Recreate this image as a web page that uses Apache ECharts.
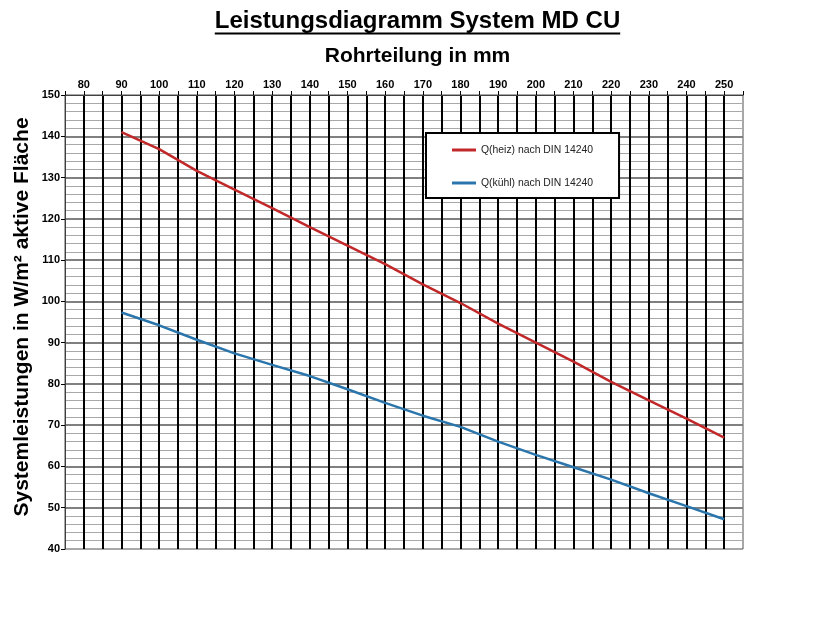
<!DOCTYPE html>
<html>
<head>
<meta charset="utf-8">
<script src="https://cdn.jsdelivr.net/npm/echarts@6/dist/echarts.min.js"></script>
<style>
html,body{margin:0;padding:0;background:#fff;}
#chart{width:837px;height:635px;}
</style>
</head>
<body>
<div id="chart"></div>
<script>
const titleText = 'Leistungsdiagramm System MD CU';
const xTitle = 'Rohrteilung in mm';
const yTitle = 'Systemleistungen in W/m² aktive Fläche';
const seriesNames = ['Q(heiz) nach DIN 14240', 'Q(kühl) nach DIN 14240'];
const rohrteilung = [90, 100, 110, 120, 130, 140, 150, 160, 170, 180, 190, 200, 210, 220, 230, 240, 250];
const qHeiz = [141.0, 136.9, 131.6, 127.1, 122.6, 118.0, 113.5, 109.0, 104.1, 99.6, 94.6, 90.0, 85.4, 80.5, 76.0, 71.6, 67.0];
const qKuehl = [97.3, 94.2, 90.7, 87.4, 84.6, 81.9, 78.7, 75.4, 72.3, 69.6, 66.0, 62.8, 59.8, 56.8, 53.5, 50.4, 47.2];

const FONT = 'Arial, "Liberation Sans", sans-serif';
const chart = echarts.init(document.getElementById('chart'), null, {renderer: 'canvas'});

const TITLE_FONT = 'bold 24px Arial, "Liberation Sans", sans-serif';
const cv = document.createElement('canvas').getContext('2d');
cv.font = TITLE_FONT;
const tw = cv.measureText(titleText).width;
const cx = 417.5;

chart.setOption({
  animation: false,
  backgroundColor: '#fff',
  graphic: [
    {type: 'text', x: cx, y: 21, style: {text: titleText, font: TITLE_FONT, fill: '#000', align: 'center', verticalAlign: 'middle'}},
    {type: 'line', shape: {x1: cx - tw / 2, y1: 33.5, x2: cx + tw / 2, y2: 33.5}, style: {stroke: '#000', lineWidth: 2}},
    {type: 'text', x: cx, y: 56, style: {text: xTitle, font: 'bold 21px Arial, "Liberation Sans", sans-serif', fill: '#000', align: 'center', verticalAlign: 'middle'}},
    {type: 'text', x: 22, y: 317, rotation: Math.PI / 2, style: {text: yTitle, font: 'bold 21px Arial, "Liberation Sans", sans-serif', fill: '#000', align: 'center', verticalAlign: 'middle'}}
  ],
  grid: {left: 65, top: 95, right: 94, bottom: 86, show: true, borderColor: '#505050', borderWidth: 1},
  legend: {
    left: 426, top: 133, orient: 'vertical',
    backgroundColor: '#fff', borderColor: '#000', borderWidth: 2,
    padding: [11, 26, 9, 26], itemGap: 21, itemWidth: 24, itemHeight: 3, icon: 'rect',
    textStyle: {fontFamily: FONT, fontSize: 10.4, color: '#222', lineHeight: 12, height: 12},
    data: seriesNames
  },
  xAxis: {
    type: 'value', position: 'top', min: 75, max: 255, interval: 5,
    axisLine: {show: true, lineStyle: {color: '#404040', width: 1}},
    axisTick: {show: true, length: 4, lineStyle: {color: '#000', width: 1}},
    axisLabel: {
      fontFamily: FONT, fontWeight: 'bold', fontSize: 11, color: '#000', margin: 5,
      formatter: function (v) { return (v % 10 === 0 && v >= 80 && v <= 250) ? String(v) : ''; }
    },
    splitLine: {show: true, showMinLine: false, showMaxLine: false, lineStyle: {color: '#000', width: 2}}
  },
  yAxis: {
    type: 'value', min: 40, max: 150, interval: 10,
    axisLine: {show: true, lineStyle: {color: '#404040', width: 1}},
    axisTick: {show: true, length: 4, lineStyle: {color: '#000', width: 1}},
    axisLabel: {fontFamily: FONT, fontWeight: 'bold', fontSize: 11, color: '#000', margin: 5},
    splitLine: {show: true, showMinLine: false, showMaxLine: false, lineStyle: {color: '#808080', width: 2}},
    minorTick: {show: false, splitNumber: 5},
    minorSplitLine: {show: true, lineStyle: {color: '#a8a8a8', width: 1}}
  },
  series: [
    {name: seriesNames[0], type: 'line', symbol: 'none', z: 5,
     lineStyle: {color: '#c0282a', width: 2.5}, itemStyle: {color: '#c0282a'},
     data: rohrteilung.map((x, i) => [x, qHeiz[i]])},
    {name: seriesNames[1], type: 'line', symbol: 'none', z: 5,
     lineStyle: {color: '#2a76ac', width: 2.5}, itemStyle: {color: '#2a76ac'},
     data: rohrteilung.map((x, i) => [x, qKuehl[i]])}
  ]
});
</script>
</body>
</html>
